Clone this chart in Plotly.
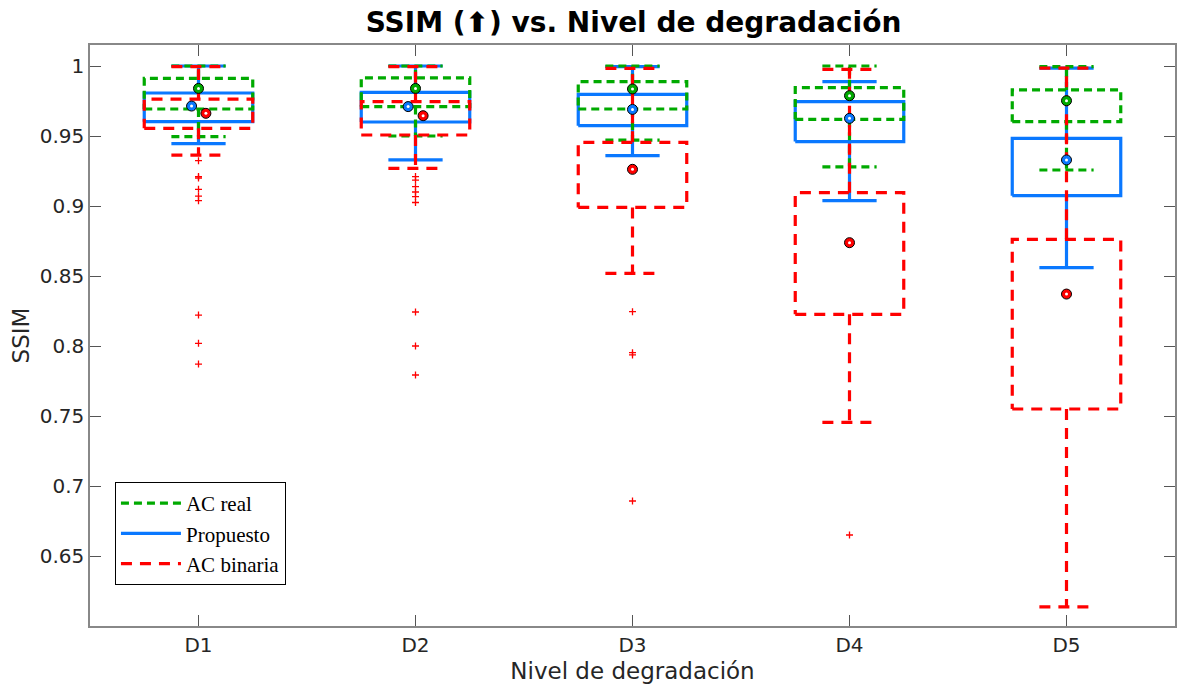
import plotly.graph_objects as go

categories = ["D1", "D2", "D3", "D4", "D5"]
positions = [1, 2, 3, 4, 5]

# AC real (green)
real_q1 = [0.9693, 0.9710, 0.9693, 0.9619, 0.9602]
real_q3 = [0.9912, 0.9915, 0.9888, 0.9845, 0.9829]
real_lo = [0.9495, 0.9500, 0.9471, 0.9279, 0.9257]
real_hi = [1.0000, 1.0000, 1.0000, 1.0000, 0.9995]
real_mean = [0.9840, 0.9840, 0.9836, 0.9788, 0.9752]

# Propuesto (blue)
prop_q1 = [0.9602, 0.9600, 0.9574, 0.9460, 0.9074]
prop_q3 = [0.9807, 0.9811, 0.9798, 0.9745, 0.9483]
prop_lo = [0.9445, 0.9329, 0.9360, 0.9038, 0.8560]
prop_hi = [1.0000, 1.0000, 0.9995, 0.9888, 0.9985]
prop_mean = [0.9714, 0.9710, 0.9690, 0.9626, 0.9329]

# AC binaria (red)
bin_q1 = [0.9555, 0.9507, 0.8990, 0.8226, 0.7550]
bin_q3 = [0.9764, 0.9745, 0.9455, 0.9095, 0.8762]
bin_lo = [0.9364, 0.9269, 0.8519, 0.7455, 0.6136]
bin_hi = [0.9995, 0.9995, 0.9983, 0.9976, 0.9985]
bin_mean = [0.9662, 0.9645, 0.9262, 0.8738, 0.8371]

bin_out_cat = [1, 1, 1, 1, 1, 1, 1, 1, 1,
               2, 2, 2, 2, 2, 2, 2, 2, 2,
               3, 3, 3, 3,
               4]
bin_out_val = [0.9324, 0.9210, 0.9200, 0.9119, 0.9070, 0.9038, 0.8221, 0.8019, 0.7871,
               0.9210, 0.9185, 0.9138, 0.9100, 0.9067, 0.9025, 0.8243, 0.8000, 0.7793,
               0.8245, 0.7952, 0.7936, 0.6893,
               0.6650]

# style (not data)
BOX_HW = 0.25
CAP_HW = 0.125
GREEN = "#00AA00"
BLUE = "#0A78FF"
RED = "#FF0000"


def box_path(q1, q3, lo, hi):
    xs, ys = [], []
    for p, a, b, l, h in zip(positions, q1, q3, lo, hi):
        xs += [p - BOX_HW, p + BOX_HW, p + BOX_HW, p - BOX_HW, p - BOX_HW, None]
        ys += [a, a, b, b, a, None]
        xs += [p, p, None, p - CAP_HW, p + CAP_HW, None]
        ys += [b, h, None, h, h, None]
        xs += [p, p, None, p - CAP_HW, p + CAP_HW, None]
        ys += [a, l, None, l, l, None]
    return xs, ys


fig = go.Figure()

series = [
    ("Propuesto", prop_q1, prop_q3, prop_lo, prop_hi, BLUE, "solid", 2),
    ("AC real", real_q1, real_q3, real_lo, real_hi, GREEN, "8px,5px", 1),
    ("AC binaria", bin_q1, bin_q3, bin_lo, bin_hi, RED, "11px,8px", 3),
]
for name, q1, q3, lo, hi, col, dash, rank in series:
    xs, ys = box_path(q1, q3, lo, hi)
    fig.add_trace(go.Scatter(x=xs, y=ys, mode="lines", name=name,
                             line=dict(color=col, width=3.2, dash=dash),
                             legendrank=rank, connectgaps=False,
                             hoverinfo="skip"))

fig.add_trace(go.Scatter(x=bin_out_cat, y=bin_out_val, mode="markers",
                         marker=dict(symbol="cross-thin", size=5,
                                     line=dict(color=RED, width=1.3)),
                         showlegend=False))

mean_dx = {
    "real": [0, 0, 0, 0, 0],
    "prop": [-0.032, -0.034, 0, 0, 0],
    "bin": [0.034, 0.035, 0, 0, 0],
}
for key, vals, col in [("real", real_mean, GREEN), ("prop", prop_mean, BLUE), ("bin", bin_mean, RED)]:
    xs = [p + d for p, d in zip(positions, mean_dx[key])]
    fig.add_trace(go.Scatter(x=xs, y=vals, mode="markers", showlegend=False,
                             marker=dict(symbol="circle", size=10, color=col,
                                         line=dict(color="black", width=1))))
    fig.add_trace(go.Scatter(x=xs, y=vals, mode="markers", showlegend=False,
                             marker=dict(symbol="circle", size=3, color="white",
                                         line=dict(width=0))))

axis_font = dict(family="DejaVu Sans", size=20, color="#262626")
title_font = dict(family="DejaVu Sans", size=23, color="#262626")
fig.update_layout(
    width=1179, height=690,
    margin=dict(l=90, r=2, t=45, b=64),
    paper_bgcolor="white", plot_bgcolor="white",
    title=dict(text="<b>SSIM (⬆) vs. Nivel de degradación</b>",
               x=(90 + 1177) / 2 / 1179, xanchor="center",
               y=1 - 22 / 690, yanchor="middle",
               font=dict(family="DejaVu Sans", size=28, color="black")),
    xaxis=dict(range=[0.5, 5.5], tickvals=positions, ticktext=categories,
               ticks="inside", ticklen=11, tickcolor="#555", tickwidth=1,
               showline=True, linecolor="#888", linewidth=1.5, mirror="ticks",
               showgrid=False, zeroline=False, tickfont=axis_font,
               title=dict(text="Nivel de degradación", font=title_font, standoff=7)),
    yaxis=dict(range=[0.6, 1.015], tickvals=[0.65, 0.7, 0.75, 0.8, 0.85, 0.9, 0.95, 1.0],
               ticktext=["0.65", "0.7", "0.75", "0.8", "0.85", "0.9", "0.95", "1"],
               ticks="inside", ticklen=11, tickcolor="#555", tickwidth=1,
               showline=True, linecolor="#888", linewidth=1.5, mirror="ticks",
               showgrid=False, zeroline=False, tickfont=axis_font,
               title=dict(text="SSIM", font=title_font, standoff=4)),
    legend=dict(x=0.023, y=0.248, xanchor="left", yanchor="top",
                bgcolor="white", bordercolor="black", borderwidth=1,
                font=dict(family="Liberation Serif", size=21, color="black"),
                itemwidth=60, tracegroupgap=0,
                traceorder="normal"),
)

fig.write_html("out.html")
